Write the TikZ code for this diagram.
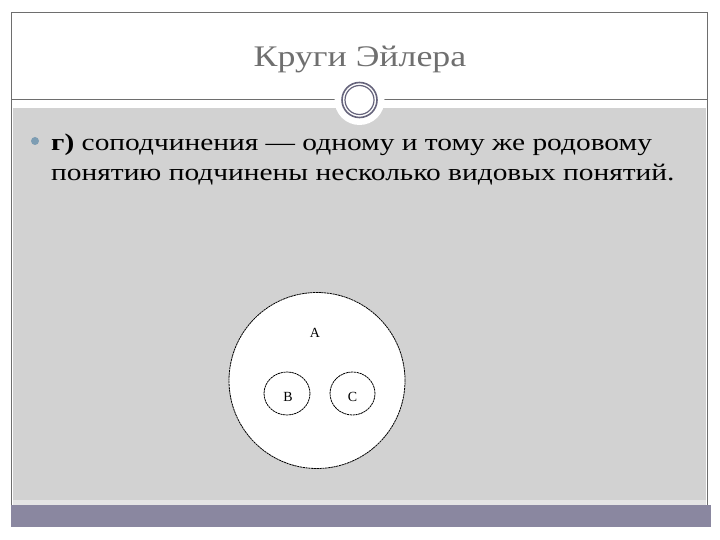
\documentclass[tikz,border=0pt]{standalone}
\usepackage{fontspec}
\setmainfont{Liberation Serif}
\newfontfamily\widefont{Liberation Serif}[FakeStretch=1.2]
\newfontfamily\bodyfont{Liberation Serif}[FakeStretch=1.23]
\usetikzlibrary{shapes.geometric}
\definecolor{framegray}{HTML}{6E6E6E}
\definecolor{panelgray}{HTML}{D2D2D2}
\definecolor{barpurple}{HTML}{8A87A0}
\definecolor{ringcol}{HTML}{66647C}
\definecolor{titlegray}{HTML}{6F6F6F}
\definecolor{bulletcol}{HTML}{7D9DB3}
\tikzset{
  euler/.style={draw=black, line width=0.8bp, dash pattern=on 2.2bp off 0.6bp, fill=white, inner sep=0pt},
  lbl/.style={font=\fontsize{14}{16}\selectfont, inner sep=0pt},
  bodytext/.style={font=\bodyfont\fontsize{24}{28}\selectfont, anchor=base west, inner sep=0pt, text=black},
}
\begin{document}
\begin{tikzpicture}[x=1bp,y=-1bp]
\useasboundingbox (0,0) rectangle (720,540);
\fill[white] (0,0) rectangle (720,540);
% grey content panel
\fill[panelgray] (13,108) rectangle (706,500);
\fill[panelgray!60!white] (13,500) rectangle (706,505);
% bottom bar
\fill[barpurple] (11,505) rectangle (711,527);
% frame
\draw[framegray, line width=1bp] (11.5,12.5) -- (707.5,12.5) -- (707.5,505) (11.5,12.5) -- (11.5,505);
% title rule
\draw[framegray, line width=1bp] (11.5,99.5) -- (707.5,99.5);
% ring ornament
\node[circle, fill=white, minimum size=50bp, inner sep=0pt] (halo) at (359.5,100) {};
\node[circle, draw=ringcol, line width=1.6bp, minimum size=35bp, inner sep=0pt] (ringout) at (359.5,100) {};
\node[circle, draw=ringcol, line width=1.2bp, minimum size=29bp, inner sep=0pt] (ringin) at (359.5,100) {};
% title
\node[font=\widefont\fontsize{30}{34}\selectfont, text=titlegray, anchor=base, inner sep=0pt] (title) at (360,67) {Круги Эйлера};
% bullet and text
\node[circle, fill=bulletcol, minimum size=8bp, inner sep=0pt] (bullet) at (35,141) {};
\node[bodytext] (line1) at (51,151) {\textbf{г)} соподчинения — одному и тому же родовому};
\node[bodytext] (line2) at (51,181) {понятию подчинены несколько видовых понятий.};
% Euler circles
\node[euler, circle, minimum size=176bp] (A) at (317,380.5) {};
\node[euler, ellipse, minimum width=46bp, minimum height=43bp] (B) at (287,393.5) {};
\node[euler, ellipse, minimum width=45bp, minimum height=43bp] (C) at (352.5,393.5) {};
\node[lbl] (la) at (315,333) {A};
\node[lbl] (lb) at (288,397) {B};
\node[lbl] (lc) at (352.5,397) {C};
\end{tikzpicture}
\end{document}
